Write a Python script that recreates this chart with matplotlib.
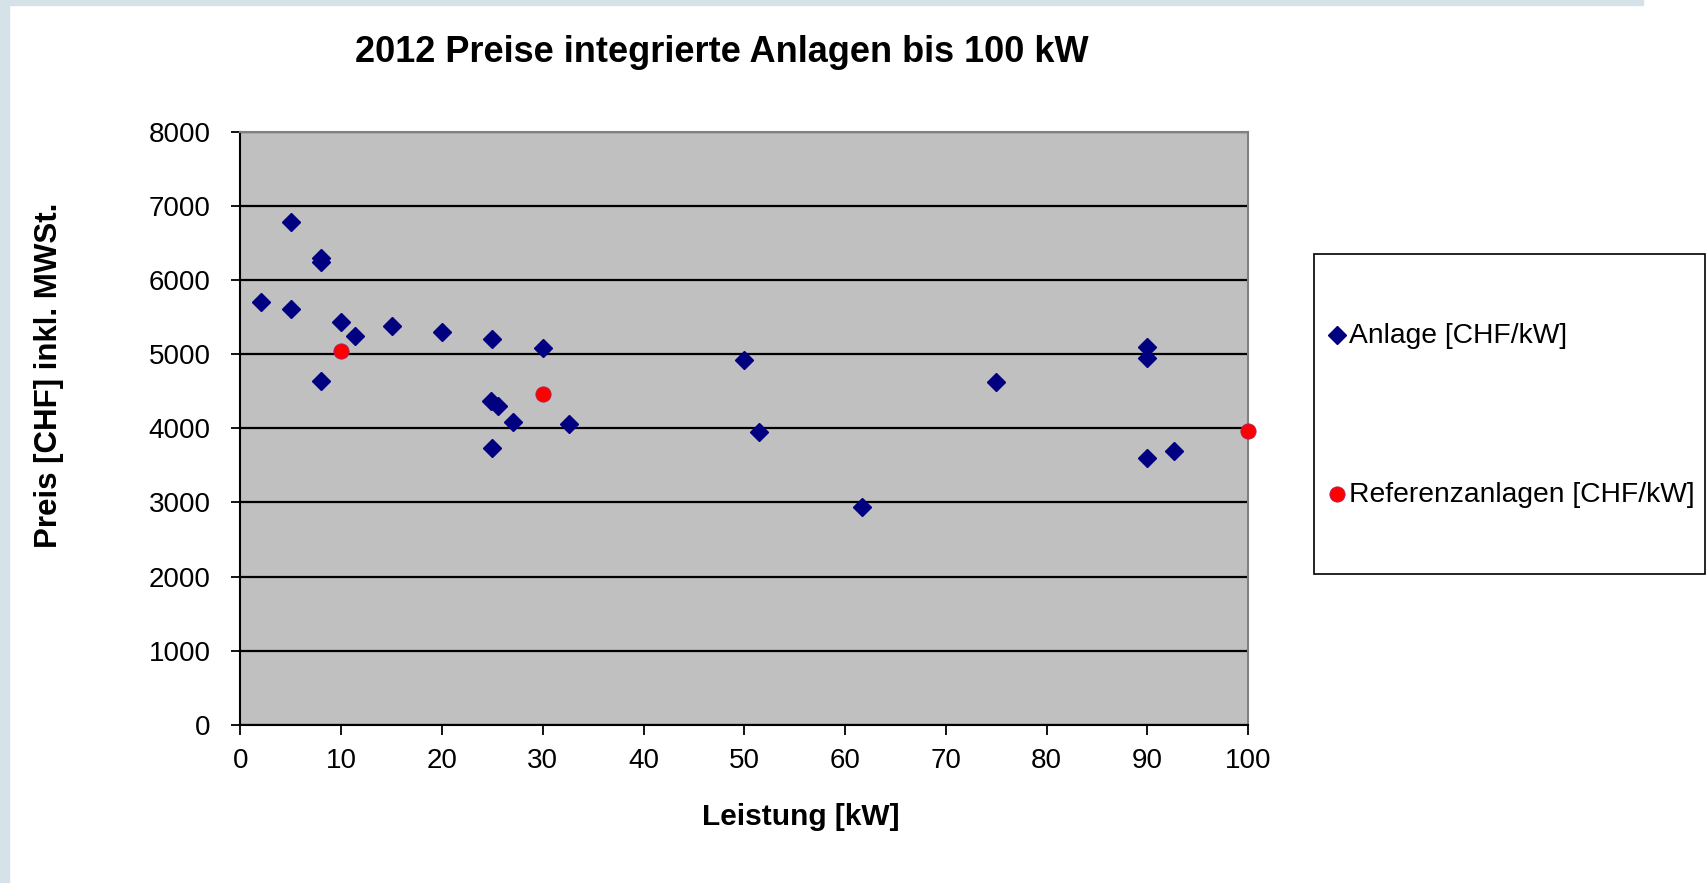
import matplotlib.pyplot as plt
from matplotlib.lines import Line2D
from matplotlib.patches import Rectangle

plt.rcParams['font.family'] = ['Liberation Sans', 'DejaVu Sans']

# data
anlage_kw = [2, 5, 5, 8, 8, 8, 10, 11.4, 15, 20, 25, 24.9, 25.6, 27, 25, 30, 32.6,
             50, 51.5, 61.7, 75, 90, 90, 90, 92.7]
anlage_preis = [5710, 6790, 5610, 6300, 6240, 4640, 5430, 5250, 5385, 5300, 5200, 4370,
                4300, 4090, 3740, 5080, 4060, 4920, 3950, 2940, 4630, 5100, 4950, 3595, 3695]
ref_kw = [10, 30, 100]
ref_preis = [5040, 4460, 3970]

x_ticks = list(range(0, 101, 10))
y_ticks = list(range(0, 8001, 1000))

W, H = 1708, 883
fig = plt.figure(figsize=(W / 100, H / 100), dpi=100)


def fx(px):
    return px / W


def fy(py):
    return 1 - py / H


# light frame on the left and top
fig.patches.append(Rectangle((0, 0), fx(9), 1, transform=fig.transFigure,
                             color='#d5e3e8', zorder=0))
fig.patches.append(Rectangle((0, fy(5)), fx(1643), 5 / H, transform=fig.transFigure,
                             color='#d5e3e8', zorder=0))

ax = fig.add_axes([fx(240.5), fy(724.7), fx(1248) - fx(240.5), fy(132) - fy(724.7)])
ax.set_facecolor('#c0c0c0')

ax.plot(anlage_kw, anlage_preis, linestyle='none', marker='D', markersize=8.8,
        color='#000080', clip_on=False, zorder=3)
ax.plot(ref_kw, ref_preis, linestyle='none', marker='o', markersize=11,
        markerfacecolor='#ff0000', markeredgecolor='#b02060', markeredgewidth=0.6,
        clip_on=False, zorder=4)

ax.set_xlim(0, 100)
ax.set_ylim(0, 8000)
ax.set_xticks(x_ticks)
ax.set_yticks(y_ticks)
ax.yaxis.grid(True, color='black', linewidth=1.6)
ax.set_axisbelow(True)

for side in ['left', 'bottom']:
    ax.spines[side].set_color('black')
    ax.spines[side].set_linewidth(1.5)
for side in ['top', 'right']:
    ax.spines[side].set_color('#808080')
    ax.spines[side].set_linewidth(1.5)

ax.tick_params(axis='x', direction='out', length=7, width=1.3, pad=10, labelsize=20)
ax.tick_params(axis='y', direction='out', length=6.5, width=1.3, pad=15, labelsize=20)

fig.text(fx(722), fy(52), '2012 Preise integrierte Anlagen bis 100 kW',
         ha='center', va='center', fontsize=26, fontweight='bold')
fig.text(fx(49), fy(375), 'Preis [CHF] inkl. MWSt.', rotation=90,
         ha='center', va='center', fontsize=22.5, fontweight='bold')
fig.text(fx(801), fy(817), 'Leistung [kW]',
         ha='center', va='center', fontsize=21.5, fontweight='bold')

# legend box
fig.patches.append(Rectangle((fx(1314), fy(574)), fx(1705.5) - fx(1314), (574 - 254) / H,
                             transform=fig.transFigure, facecolor='white',
                             edgecolor='black', linewidth=1.2, zorder=1))
fig.add_artist(Line2D([fx(1337.5)], [fy(335)], transform=fig.transFigure,
                      linestyle='none', marker='D', markersize=8.8, color='#000080'))
fig.text(fx(1349), fy(336), 'Anlage [CHF/kW]', ha='left', va='center', fontsize=20.3)
fig.add_artist(Line2D([fx(1337)], [fy(494)], transform=fig.transFigure,
                      linestyle='none', marker='o', markersize=11,
                      markerfacecolor='#ff0000', markeredgecolor='#b02060',
                      markeredgewidth=0.6))
fig.text(fx(1349), fy(495), 'Referenzanlagen [CHF/kW]', ha='left', va='center',
         fontsize=20.3)

fig.savefig('out.png', dpi=100)
